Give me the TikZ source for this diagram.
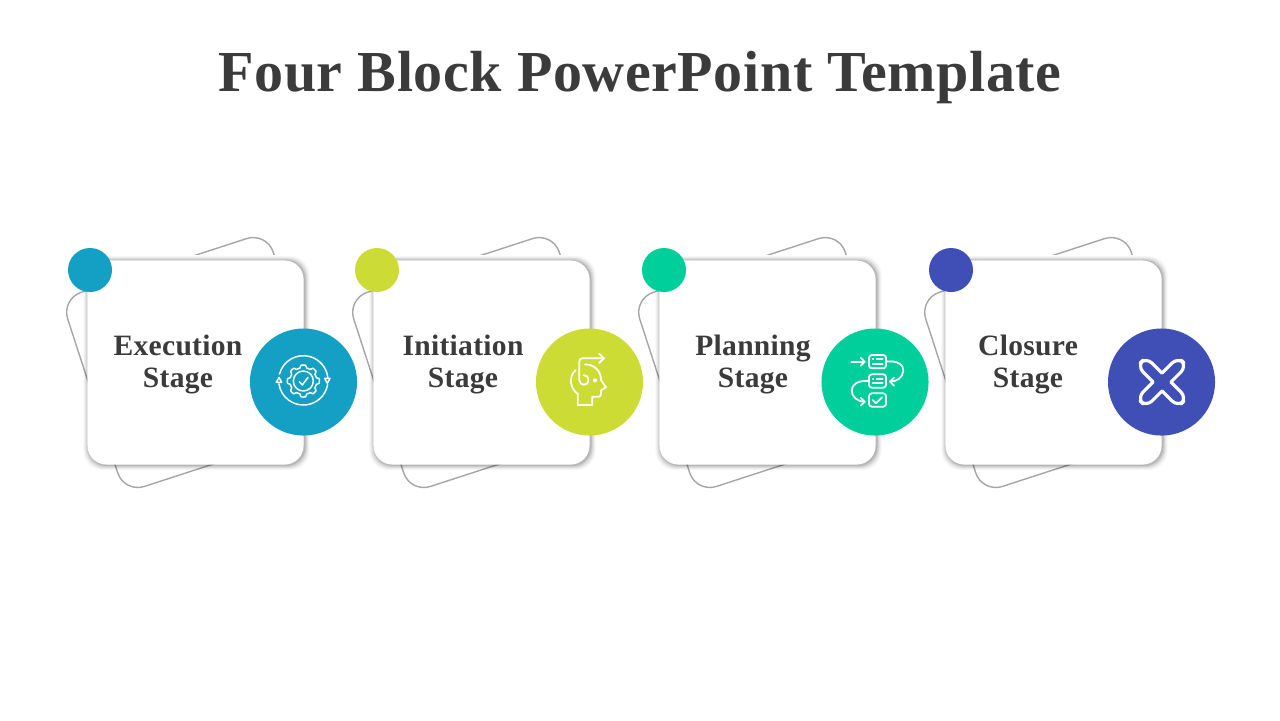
\documentclass[tikz,border=0pt]{standalone}
\usepackage{fontspec}
\setmainfont{Liberation Serif}
\newfontfamily\headfont[LetterSpace=1.0]{Liberation Serif Bold}
\usetikzlibrary{positioning,calc,arrows.meta}
\definecolor{inkgray}{HTML}{3B3B3B}
\definecolor{linegray}{HTML}{A6A6A6}
\definecolor{execblue}{HTML}{14A0C4}
\definecolor{initlime}{HTML}{CDDC35}
\definecolor{plangreen}{HTML}{00CF9B}
\definecolor{closeindigo}{HTML}{3F4FB5}
\tikzset{
  backcard/.style={draw=linegray,line width=0.4pt,rectangle,rounded corners=6pt,inner sep=0pt,minimum width=2.16cm,minimum height=2.04cm,rotate=18},
  cardgap/.style={fill=white,rectangle,inner sep=0pt,minimum width=2.3cm,minimum height=0.07cm},
  cardshadow/.style={fill=black,rectangle,rounded corners=5.5pt,inner sep=0pt},
  card/.style={fill=white,rectangle,rounded corners=5.4pt,inner sep=0pt,minimum width=2.16cm,minimum height=2.04cm},
  smalldot/.style={circle,inner sep=0pt,minimum size=0.44cm},
  bigdot/.style={circle,inner sep=0pt,minimum size=1.07cm},
  stagetext/.style={text=inkgray,align=center,font=\headfont\fontsize{8.4pt}{9.1pt}\selectfont},
  iconline/.style={draw=white,line width=0.5pt,line cap=round,line join=round},
  thinline/.style={iconline,line width=0.42pt},
  crossline/.style={iconline,line width=0.9pt,rounded corners=2.4pt}
}
\begin{document}
\begin{tikzpicture}[x=0.01cm,y=-0.01cm]
        \useasboundingbox (0,0) rectangle (1280,720);
        % title
        \node[text=inkgray,font=\headfont\fontsize{16.5pt}{18pt}\selectfont] (title) at (640,78) {Four Block PowerPoint Template};
        % blocks
        \foreach \n/\x/\col/\lab/\tx/\bx in {exec/0/execblue/{Execution\\Stage}/178/303.5,init/286/initlime/{Initiation\\Stage}/463/589.5,plan/572/plangreen/{Planning\\Stage}/753/875,close/858/closeindigo/{Closure\\Stage}/1028/1161.5}{
            \node[backcard] (\n-back) at (195.5+\x,362.5) {};
            \node[cardgap] (\n-gap) at (195.5+\x,258) {};
            \foreach \s/\o in {5/0.03,4/0.04,3/0.06,2/0.08,1/0.11}{
                \node[cardshadow,opacity=\o,minimum width=2.16cm+\s*0.02cm,minimum height=2.04cm+\s*0.02cm] at (196.5+\x,363) {};
            }
            \node[card] (\n-card) at (195.5+\x,362.5) {};
            \node[smalldot,fill=\col] (\n-small) at (90+\x+\x/286,270) {};
            \node[stagetext] (\n-label) at (\tx,364) {\lab};
            \node[bigdot,fill=\col] (\n-big) at (\bx,382) {};
        }
        % gear icon
        \begin{scope}[shift={(250,325)},scale=0.3333]
            \draw[thinline] (160,166) ++(195:74) arc (195:355:74);
            \draw[thinline] (160,166) ++(172:74) arc (172:10:74);
            \draw[thinline] (79,172) -- (87,157) -- (95,172) -- cycle;
            \draw[thinline] (224,160) -- (240,160) -- (232,175) -- cycle;
            \draw[thinline] plot[samples at={0,2,...,358}] ({160+(44+4*max(min(2.2*cos(8*\x),1),-1))*cos(\x)},{168+(44+4*max(min(2.2*cos(8*\x),1),-1))*sin(\x)}) -- cycle;
            \draw[thinline] (160,168) circle (30);
            \draw[thinline] (148,170) -- (157,180) -- (174,157);
        \end{scope}
        % head icon
        \begin{scope}[shift={(535,325)},scale=0.3333]
            \draw[iconline] (122,135) .. controls (100,155) and (105,190) .. (128,207) -- (128,240) -- (172,240) -- (172,215) -- (192,215) .. controls (197,215) and (198,210) .. (198,205) -- (198,196) -- (213,187) -- (198,165) .. controls (198,140) and (180,118) .. (150,118);
            \draw[iconline] (207,100) -- (142,100) .. controls (136,100) and (133,104) .. (133,110) -- (133,165) .. controls (133,183) and (160,185) .. (160,165) .. controls (160,155) and (152,150) .. (146,150);
            \draw[iconline] (192,86) -- (207,100) -- (192,114);
            \fill[white] (180,166) circle (6);
        \end{scope}
        % plan icon
        \begin{scope}[shift={(820,325)},scale=0.3333]
            \foreach \y in {90,148,205}{
                \draw[iconline,rounded corners=0.8pt] (147,\y) rectangle (198,\y+40);
            }
            \foreach \y in {90,148}{
                \draw[iconline] (158,\y+13) -- (160,\y+13) (170,\y+13) -- (188,\y+13) (158,\y+26) -- (188,\y+26);
            }
            \draw[iconline] (158,225) -- (168,235) -- (186,217);
            \draw[iconline] (94,110) -- (134,110);
            \draw[iconline] (122,98) -- (134,110) -- (122,122);
            \draw[iconline] (198,110) .. controls (232,105) and (252,120) .. (250,138) .. controls (248,158) and (230,170) .. (210,170);
            \draw[iconline] (222,158) -- (210,170) -- (222,182);
            \draw[iconline] (147,168) .. controls (115,165) and (96,178) .. (95,195) .. controls (94,215) and (112,230) .. (134,230);
            \draw[iconline] (122,218) -- (134,230) -- (122,242);
        \end{scope}
        % cross icon
        \begin{scope}[shift={(1105,325)},scale=0.3333]
            \foreach \a in {45,135,225,315}{
                \draw[crossline,rotate around={\a:(171,171)}] (190,152) -- (258,152) -- (258,190) -- (190,190);
            }
        \end{scope}
    \end{tikzpicture}
\end{document}
